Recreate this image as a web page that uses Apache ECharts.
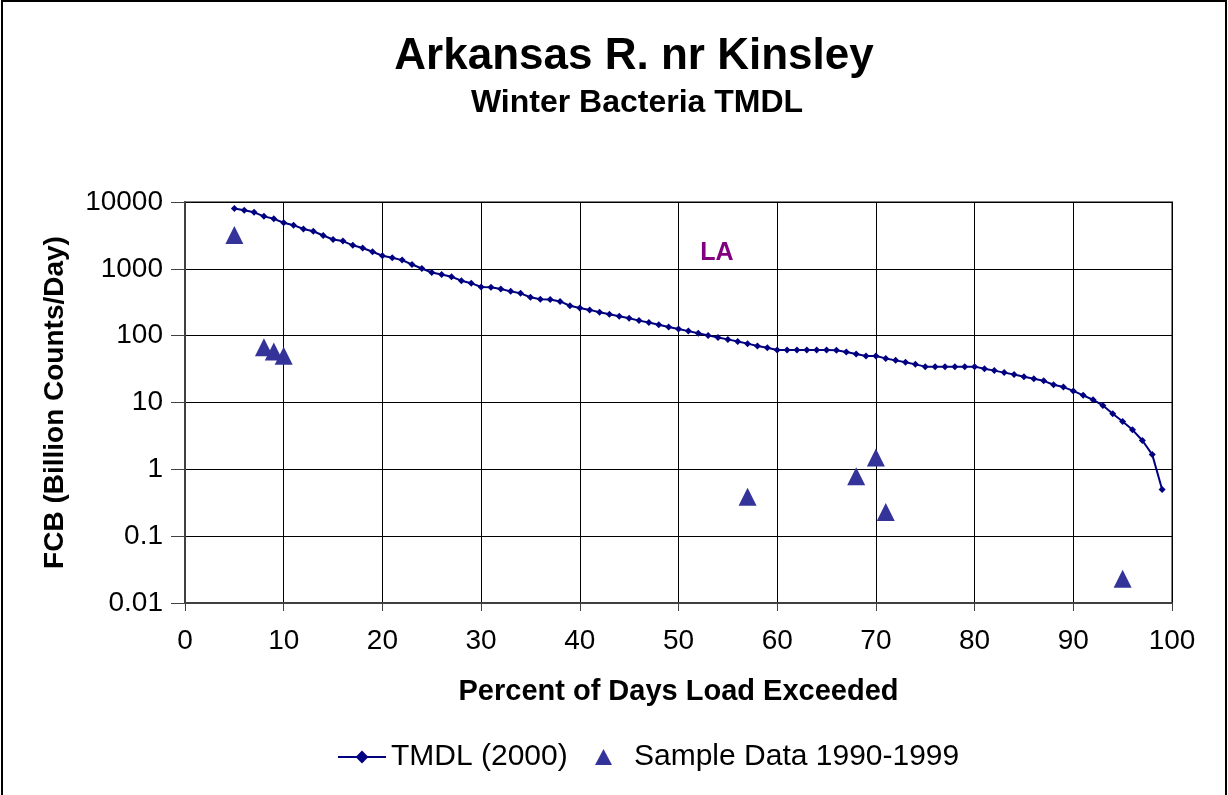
<!DOCTYPE html>
<html>
<head>
<meta charset="utf-8">
<title>Arkansas R. nr Kinsley</title>
<script src="https://cdn.jsdelivr.net/npm/echarts@6/dist/echarts.min.js"></script>
<style>
    html,body{margin:0;padding:0;background:#fff;}
    #chart{width:1228px;height:795px;}
</style>
</head>
<body>
<div id="chart"></div>
<script>
// TMDL curve, percent of days exceeded vs load
const tmdlPercent = [5,6,7,8,9,10,11,12,13,14,
    15,16,17,18,19,20,21,22,23,24,
    25,26,27,28,29,30,31,32,33,34,
    35,36,37,38,39,40,41,42,43,44,
    45,46,47,48,49,50,51,52,53,54,
    55,56,57,58,59,60,61,62,63,64,
    65,66,67,68,69,70,71,72,73,74,
    75,76,77,78,79,80,81,82,83,84,
    85,86,87,88,89,90,91,92,93,94,
    95,96,97,98,99];
const tmdlLoad = [8000,7500,7000,6100,5600,4900,4500,3950,3650,3150,
    2750,2600,2250,2050,1800,1570,1460,1350,1160,1010,
    880,825,760,665,610,535,530,500,460,430,
    375,350,348,325,280,260,243,224,209,195,
    182,168,157,146,135,126,117,109,101,94,
    88,82,76,70,66,61,61,61,61,61,
    61,60.7,57,53,49.5,49.5,45.7,42.7,40,37.2,
    34.4,34.4,34.4,34.4,34.4,34.4,32,30,28,26.2,
    24.2,22.6,21.1,18.4,17,14.9,12.8,11,9,6.8,
    5.2,3.9,2.7,1.66,0.5];

// sample data 1990-1999
const samplePercent = [5,8,9,10,57,68,70,71,95];
const sampleLoad = [3200,67,58,50,0.39,0.79,1.5,0.23,0.023];

const seriesNames = ['TMDL (2000)','Sample Data 1990-1999'];

const font = 'Liberation Sans, Arial, sans-serif';

let chart = echarts.init(document.getElementById('chart'));

let option = {
    backgroundColor:'#fff',
    animation:false,
    graphic:[{
        type:'rect',
        shape:{x:2,y:1,width:1224,height:830},
        style:{fill:'none',stroke:'#000',lineWidth:2},
        silent:true
    },{
        type:'text',
        x:634,
        y:57,
        style:{
            text:'Arkansas R. nr Kinsley',
            font:'bold 44px ' + font,
            fill:'#000',
            align:'center',
            verticalAlign:'middle'
        }
    },{
        type:'text',
        x:637,
        y:103,
        style:{
            text:'Winter Bacteria TMDL',
            font:'bold 32px ' + font,
            fill:'#000',
            align:'center',
            verticalAlign:'middle'
        }
    },{
        type:'text',
        x:717,
        y:253,
        style:{
            text:'LA',
            font:'bold 25px ' + font,
            fill:'#800080',
            align:'center',
            verticalAlign:'middle'
        }
    }],
    grid:{
        left:185,
        right:56,
        top:202,
        bottom:192,
        show:true,
        borderColor:'#808080',
        borderWidth:2,
        backgroundColor:'#fff'
    },
    legend:[{
        left:337,
        top:742,
        padding:0,
        itemWidth:48,
        itemHeight:16,
        textStyle:{
            color:'#000',
            fontSize:30,
            fontFamily:font
        },
        data:[seriesNames[0]]
    },{
        left:595,
        top:742,
        padding:0,
        itemWidth:17,
        itemHeight:16,
        textStyle:{
            color:'#000',
            fontSize:30,
            fontFamily:font,
            padding:[0,0,0,17]
        },
        data:[seriesNames[1]]
    }],
    xAxis:{
        type:'value',
        min:0,
        max:100,
        interval:10,
        name:'Percent of Days Load Exceeded',
        nameLocation:'middle',
        nameGap:74,
        nameTextStyle:{
            color:'#000',
            fontSize:29,
            fontWeight:'bold',
            fontFamily:font
        },
        axisLine:{lineStyle:{color:'#404040',width:2}},
        axisTick:{show:true,length:8,lineStyle:{color:'#404040'}},
        axisLabel:{
            color:'#000',
            fontSize:28,
            fontFamily:font,
            margin:24
        },
        splitLine:{show:true,lineStyle:{color:'#000',width:1}}
    },
    yAxis:{
        type:'log',
        logBase:10,
        min:0.01,
        max:10000,
        splitNumber:6,
        name:'FCB (Billion Counts/Day)',
        nameLocation:'middle',
        nameGap:116,
        nameTextStyle:{
            color:'#000',
            fontSize:28,
            fontWeight:'bold',
            fontFamily:font
        },
        axisLine:{show:true,lineStyle:{color:'#404040',width:2}},
        axisTick:{show:true,length:14,lineStyle:{color:'#404040'}},
        axisLabel:{
            color:'#000',
            fontSize:28,
            fontFamily:font,
            margin:22,
            formatter:function(v){
                return String(+v.toPrecision(2));
            }
        },
        splitLine:{show:true,lineStyle:{color:'#000',width:1}}
    },
    series:[{
        name:seriesNames[0],
        type:'line',
        data:tmdlPercent.map((p,i)=>[p,tmdlLoad[i]]),
        symbol:'diamond',
        symbolSize:7,
        lineStyle:{color:'#000080',width:2},
        itemStyle:{color:'#000080'},
        z:3
    },{
        name:seriesNames[1],
        type:'scatter',
        data:samplePercent.map((p,i)=>[p,sampleLoad[i]]),
        symbol:'triangle',
        symbolSize:18,
        itemStyle:{color:'#333399',opacity:1},
        z:4
    }]
};

chart.setOption(option);
</script>
</body>
</html>
